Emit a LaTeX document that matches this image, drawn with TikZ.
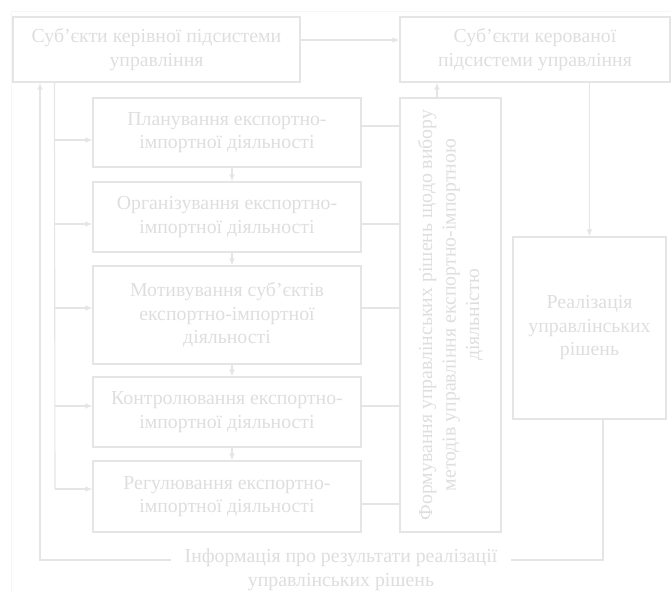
\documentclass[tikz,border=0pt]{standalone}
\usepackage{fontspec}
\setmainfont{Liberation Serif}
\usetikzlibrary{arrows.meta,calc}
\definecolor{lc}{gray}{0.9}
\definecolor{tc}{gray}{0.87}
\definecolor{fc}{gray}{0.965}
\begin{document}
\begin{tikzpicture}[x=1pt,y=-1pt,
  box/.style={draw=lc,line width=1.1pt,text=tc,align=center,inner sep=0pt,
    font=\fontsize{19.8}{23.5}\selectfont},
  ln/.style={draw=lc,line width=1.1pt},
  arr/.style={ln,-{Latex[length=7pt,width=5.5pt]}},
  lbl/.style={text=tc,align=center,inner ysep=3pt,inner xsep=14pt,font=\fontsize{19.8}{23.5}\selectfont}]
\useasboundingbox (0,0) rectangle (671,592);
\draw[fc,line width=1pt] (11,592) -- (11,11) -- (671,11);

\node[box,minimum width=287pt,minimum height=65pt] (A) at (156.5,49.5)
  {Суб’єкти керівної підсистеми\\управління};
\node[box,minimum width=270pt,minimum height=65pt] (B) at (535,49.5)
  {Суб’єкти керованої\\підсистеми управління};

\node[box,minimum width=268pt,minimum height=69pt] (L1) at (227,132.5)
  {Планування експортно-\\імпортної діяльності};
\node[box,minimum width=268pt,minimum height=70pt] (L2) at (227,217)
  {Організування експортно-\\імпортної діяльності};
\node[box,minimum width=268pt,minimum height=98pt] (L3) at (227,315)
  {Мотивування суб’єктів\\експортно-імпортної\\діяльності};
\node[box,minimum width=268pt,minimum height=70pt] (L4) at (227,412)
  {Контролювання експортно-\\імпортної діяльності};
\node[box,minimum width=268pt,minimum height=71pt] (L5) at (227,496.5)
  {Регулювання експортно-\\імпортної діяльності};

\node[box,rotate=90,minimum width=434pt,minimum height=101pt] (C) at (450.5,315)
  {Формування управлінських рішень щодо вибору\\методів управління експортно-імпортною\\діяльністю};

\node[box,minimum width=153pt,minimum height=182pt] (D) at (589.5,328)
  {Реалізація\\управлінських\\рішень};

% top arrows
\draw[arr] ([yshift=9.5pt]A.east) -- ([yshift=9.5pt]B.west);
\draw[arr] ([xshift=-13.5pt]C.east) -- ([xshift=-13.5pt]C.east |- B.south);
\draw[arr] (D.north |- B.south) -- (D.north);

% branch bus
\coordinate (bus) at ([xshift=42pt]A.south west);
\coordinate (b1) at (55,140);
\coordinate (b2) at (55,224);
\coordinate (b3) at (55,308);
\coordinate (b4) at (55,406);
\coordinate (b5) at (55,489);
\draw[ln] (bus) -- (b5);
\draw[arr] (b1) -- (b1 -| L1.west);
\draw[arr] (b2) -- (b2 -| L2.west);
\draw[arr] (b3) -- (b3 -| L3.west);
\draw[arr] (b4) -- (b4 -| L4.west);
\draw[arr] (b5) -- (b5 -| L5.west);

% between left boxes
\draw[arr] ([xshift=5pt]L1.south) -- ([xshift=5pt]L2.north);
\draw[arr] ([xshift=5pt]L2.south) -- ([xshift=5pt]L3.north);
\draw[arr] ([xshift=5pt]L3.south) -- ([xshift=5pt]L4.north);
\draw[arr] ([xshift=5pt]L4.south) -- ([xshift=5pt]L5.north);

% to C
\coordinate (c1) at (361,126);
\coordinate (c2) at (361,224);
\coordinate (c3) at (361,308);
\coordinate (c4) at (361,406);
\coordinate (c5) at (361,504);
\draw[ln] (c1 -| L1.east) -- (c1 -| C.north);
\draw[ln] (c2 -| L2.east) -- (c2 -| C.north);
\draw[ln] (c3 -| L3.east) -- (c3 -| C.north);
\draw[ln] (c4 -| L4.east) -- (c4 -| C.north);
\draw[ln] (c5 -| L5.east) -- (c5 -| C.north);

% feedback
\coordinate (fbR) at (603,560);
\coordinate (fbL) at (40,560);
\draw[arr] (fbR |- D.south) -- (fbR) -- (fbL) -- (fbL |- A.south);
\node[lbl,fill=white,anchor=north] (info) at (341,546)
  {Інформація про результати реалізації\\управлінських рішень};
\end{tikzpicture}
\end{document}
